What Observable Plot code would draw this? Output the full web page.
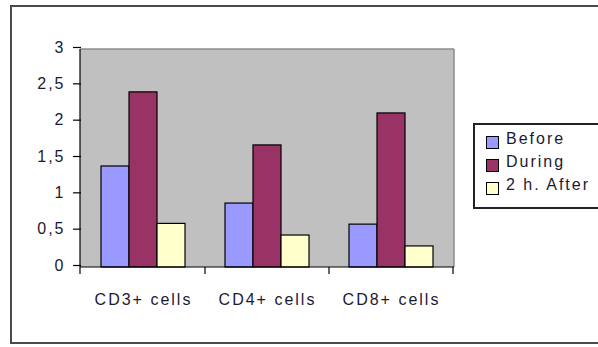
<!DOCTYPE html>
<html>
<head>
<meta charset="utf-8">
<script src="https://cdn.jsdelivr.net/npm/d3@7"></script>
<script src="https://cdn.jsdelivr.net/npm/@observablehq/plot@0.6"></script>
<style>
  html, body { margin: 0; padding: 0; background: #fff; }
  #wrap { position: relative; width: 598px; height: 347px; overflow: hidden; font-family: "Liberation Sans", Arial, sans-serif; }
  #outer { position: absolute; left: 10px; top: 5px; width: 620px; height: 339px; border: 2px solid #4a4a4a; box-sizing: border-box; }
  #legend { position: absolute; left: 473px; top: 123px; width: 160px; height: 86px; border: 2px solid #222; box-sizing: border-box; background: #fff; }
  .item { position: absolute; left: 11px; height: 20px; font-size: 16px; letter-spacing: 2px; color: #1a1a33; line-height: 20px; white-space: nowrap; }
  .sw { position: absolute; left: 0; top: 7px; width: 11px; height: 11px; border: 1px solid #000; }
  .lab { position: absolute; left: 20px; top: 0; }
  #chart { position: absolute; left: 0; top: 0; }
</style>
</head>
<body>
<div id="wrap">
  <div id="outer"></div>
  <div id="chart"></div>
  <div id="legend"></div>
</div>
<script>
const categories = ["CD3+ cells", "CD4+ cells", "CD8+ cells"];
const series = ["Before", "During", "2 h. After"];
const before = [1.39, 0.88, 0.59];
const during = [2.41, 1.68, 2.12];
const after = [0.60, 0.44, 0.29];
const yTicks = [0, 0.5, 1, 1.5, 2, 2.5, 3];
const colors = ["#9999FF", "#993366", "#FFFFCC"];

const valuesBySeries = [before, during, after];
const data = [];
categories.forEach((c, i) => {
  series.forEach((s, j) => data.push({cat: c, series: s, value: valuesBySeries[j][i]}));
});

const textColor = "#1a1a33";

const chart = Plot.plot({
  width: 598,
  height: 347,
  marginLeft: 80,
  marginRight: 144,
  marginTop: 49,
  marginBottom: 80,
  style: {background: "transparent", fontFamily: "'Liberation Sans', Arial, sans-serif", color: textColor, overflow: "visible"},
  fx: {domain: categories, padding: 0},
  x: {domain: series, paddingInner: 0, paddingOuter: 0.7, axis: null},
  y: {domain: [0, 3]},
  color: {domain: series, range: colors},
  marks: [
    Plot.barY(data, {fx: "cat", x: "series", y: "value", fill: "series", stroke: "#000", strokeWidth: 1.2}),
    Plot.axisY({ticks: yTicks, tickSize: 8, tickPadding: 8, tickFormat: d => String(d).replace(".", ","), fontSize: 16, dy: -2, stroke: "#000", strokeWidth: 1.2, fill: textColor, label: null}),
    Plot.axisFx({anchor: "bottom", tickSize: 0, tickPadding: 26, fontSize: 16, fill: textColor, label: null})
  ]
});

d3.select("#chart").node().appendChild(chart);

const svg = d3.select(chart);
svg.selectAll("text").style("letter-spacing", "2px");
const y = chart.scale("y");
const fx = chart.scale("fx");
const x0 = fx.range[0], x1 = fx.range[1];
const yTop = y.apply(3), yBot = y.apply(0);
// gray plot background drawn once behind everything
svg.insert("rect", "g").attr("x", x0).attr("y", yTop).attr("width", x1 - x0).attr("height", yBot - yTop).attr("fill", "#C0C0C0");
const g = svg.append("g");
// gray border at top and right of plot area
g.append("line").attr("x1", x0).attr("x2", x1).attr("y1", yTop).attr("y2", yTop).attr("stroke", "#8c8c8c").attr("stroke-width", 1.5);
g.append("line").attr("x1", x1).attr("x2", x1).attr("y1", yTop).attr("y2", yBot).attr("stroke", "#8c8c8c").attr("stroke-width", 1.5);
// black axis lines
g.append("line").attr("x1", x0).attr("x2", x0).attr("y1", yTop).attr("y2", yBot).attr("stroke", "#000").attr("stroke-width", 1.2);
g.append("line").attr("x1", x0).attr("x2", x1).attr("y1", yBot).attr("y2", yBot).attr("stroke", "#000").attr("stroke-width", 1.2);
// category boundary ticks
const bounds = [x0, ...categories.map(c => fx.apply(c) + fx.bandwidth)];
bounds.forEach(b => {
  g.append("line").attr("x1", b).attr("x2", b).attr("y1", yBot).attr("y2", yBot + 7).attr("stroke", "#000").attr("stroke-width", 1.2);
});

// legend
const legend = d3.select("#legend");
series.forEach((s, i) => {
  const item = legend.append("div").attr("class", "item").style("top", (4 + i * 23) + "px");
  item.append("div").attr("class", "sw").style("background", colors[i]);
  item.append("div").attr("class", "lab").text(s);
});
</script>
</body>
</html>
